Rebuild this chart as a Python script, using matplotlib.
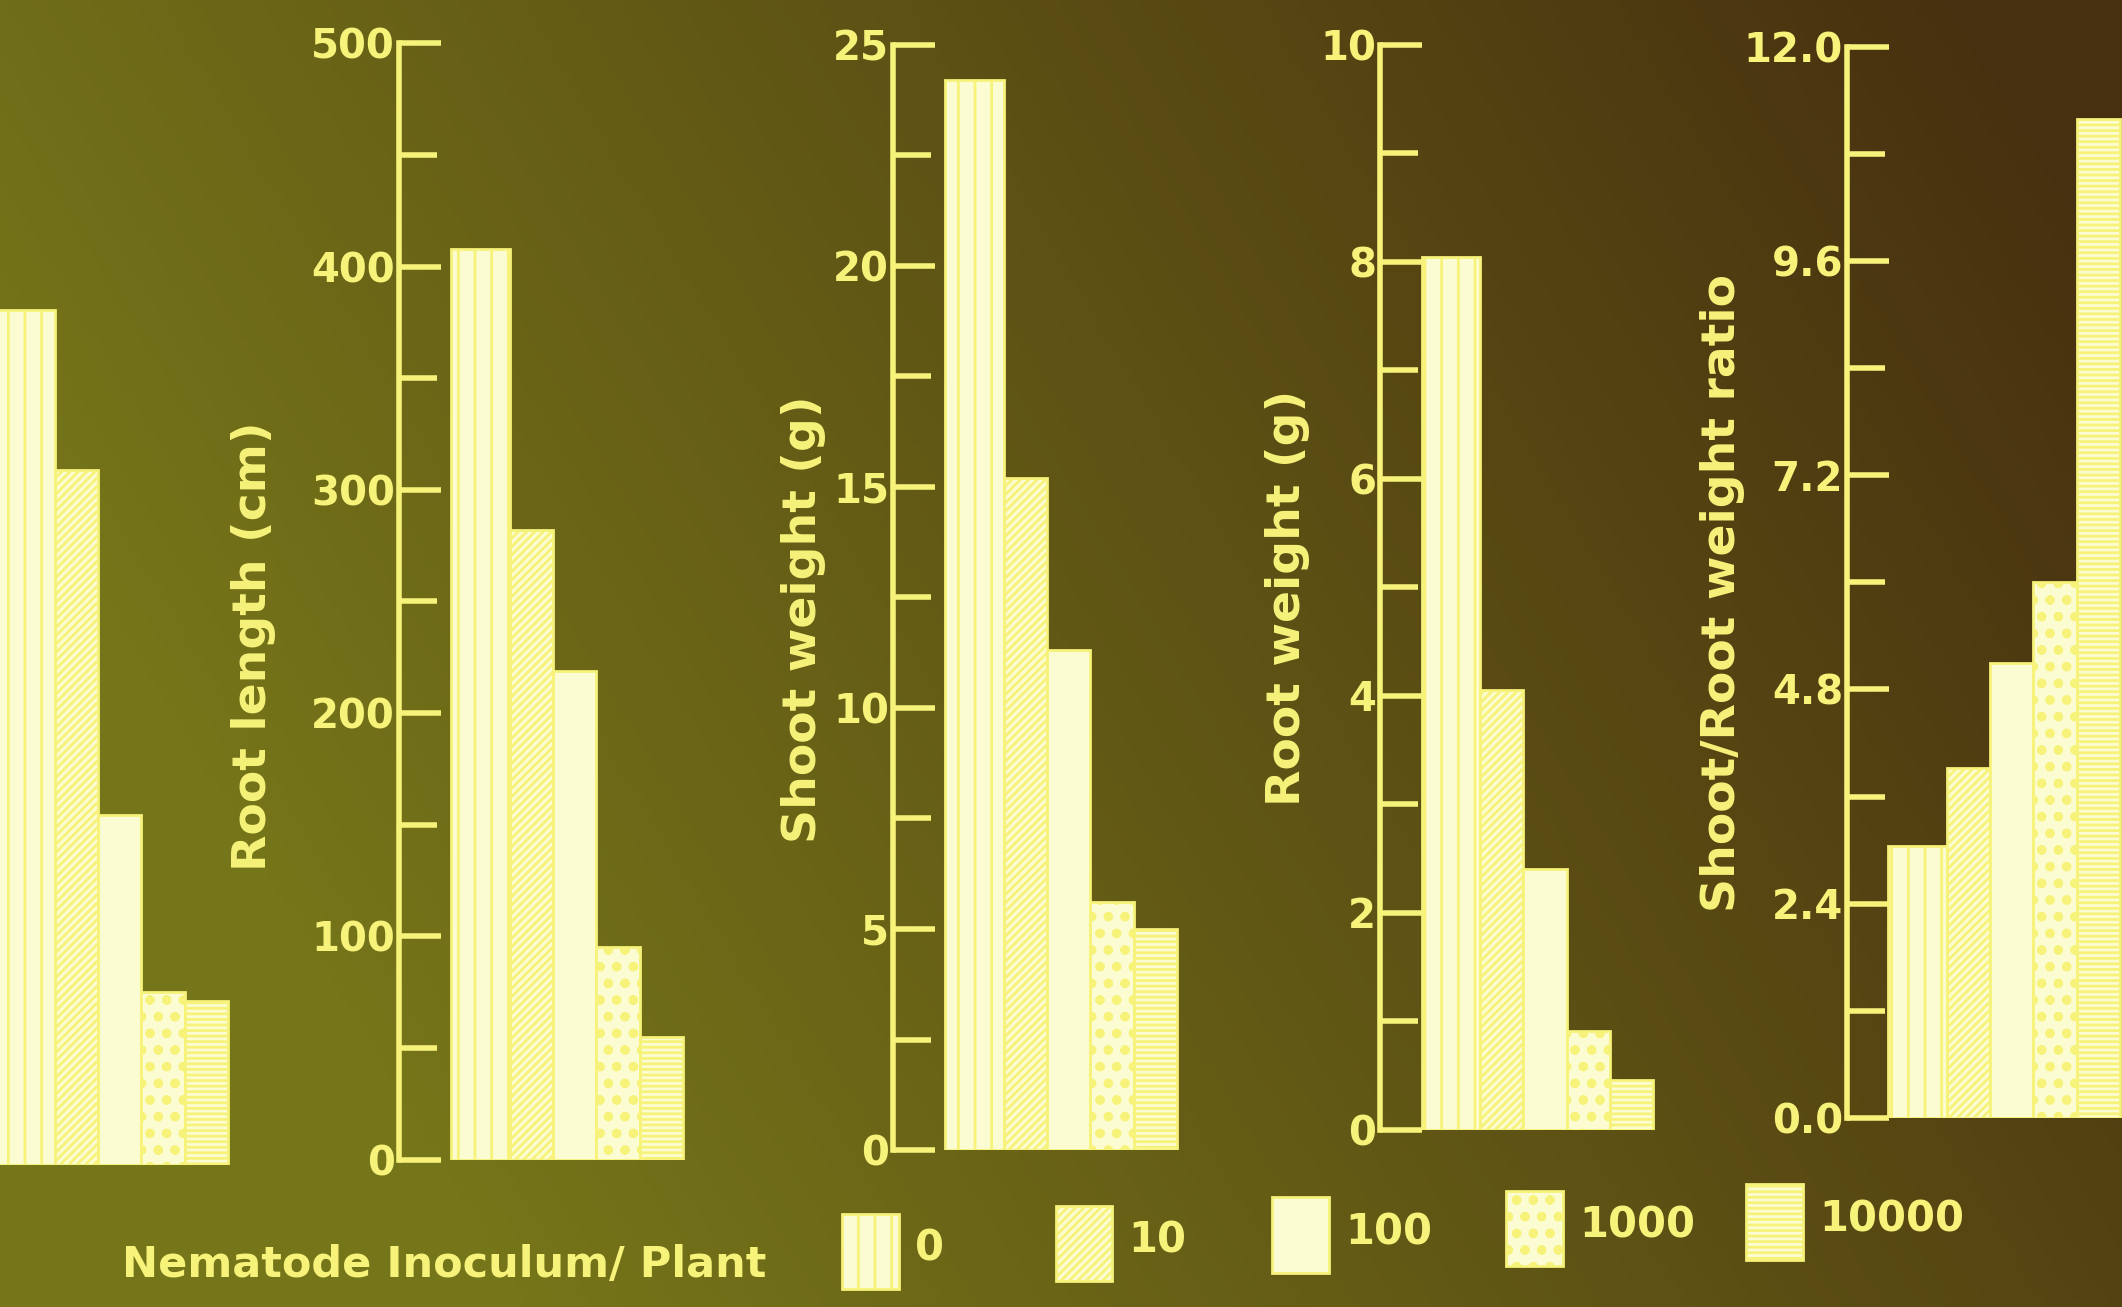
import numpy as np
import matplotlib
matplotlib.use('Agg')
import matplotlib.pyplot as plt
from matplotlib.patches import Rectangle
from matplotlib.ticker import MultipleLocator

# dados
inoculo = ['0', '10', '100', '1000', '10000']
primeiro_grupo = [381, 310, 156, 77, 73]      # grupo cortado a esquerda
comprimento_raiz = [408, 282, 219, 95, 55]     # Root length (cm)
peso_parte_aerea = [24.2, 15.2, 11.3, 5.6, 5.0]  # Shoot weight (g)
peso_raiz = [8.04, 4.05, 2.4, 0.91, 0.46]      # Root weight (g)
razao = [3.05, 3.92, 5.1, 6.0, 11.2]           # Shoot/Root weight ratio

amarelo = '#f6f27a'
barra = '#fcfcd2'
hachuras = ['|', '////', '', 'o.', '---']
larguras = [1.35, 1, 1, 1, 1]

plt.rcParams['font.family'] = ['DejaVu Sans']
plt.rcParams['font.weight'] = 'bold'
plt.rcParams['hatch.color'] = '#dcd84a'
plt.rcParams['hatch.linewidth'] = 2.0

fig = plt.figure(figsize=(21.22, 13.07), dpi=100)

# fundo tipo foto de slide
bg = fig.add_axes([0, 0, 1, 1])
xx, yy = np.meshgrid(np.linspace(0, 1, 300), np.linspace(0, 1, 200))
verde = np.array([0.46, 0.46, 0.10])
marrom = np.array([0.28, 0.19, 0.06])
t = np.clip(xx * 0.95 - yy * 0.35 + 0.12, 0, 1)[..., None]
img = verde * (1 - t) + marrom * t
bg.imshow(img, aspect='auto', extent=[0, 1, 0, 1], origin='upper')
bg.axis('off')

W, H = 1568, 966
LARGURA_AX = 260


def painel(spine_x, topo, base, valores, ymax, major, minor, gap, rotulo=None,
           lab_x=-0.3, lab_y=0.47, fmt=None, rotulos_ticks=True):
    ax = fig.add_axes([spine_x / W, 1 - base / H, LARGURA_AX / W, (base - topo) / H])
    ax.patch.set_alpha(0)
    unidade = 32
    pos = []
    x = gap
    for w in larguras:
        pos.append(x)
        x += w
    barras = ax.bar(pos, valores, width=larguras, align='edge', color=barra,
                    edgecolor=amarelo, linewidth=2)
    for b, h in zip(barras, hachuras):
        b.set_hatch(h)
    ax.set_xlim(0, LARGURA_AX / unidade)
    ax.set_ylim(0, ymax)
    for s in ['top', 'right', 'bottom']:
        ax.spines[s].set_visible(False)
    ax.spines['left'].set_color(amarelo)
    ax.spines['left'].set_linewidth(4)
    ax.set_xticks([])
    ax.yaxis.set_major_locator(MultipleLocator(major))
    ax.yaxis.set_minor_locator(MultipleLocator(minor))
    ax.tick_params(axis='y', which='major', direction='in', length=30, width=4,
                   color=amarelo, labelcolor=amarelo, labelsize=29, pad=3,
                   labelleft=rotulos_ticks)
    ax.tick_params(axis='y', which='minor', direction='in', length=27, width=4,
                   color=amarelo)
    if fmt:
        ax.yaxis.set_major_formatter(fmt)
    if rotulo:
        ax.set_ylabel(rotulo, color=amarelo, fontsize=34, fontweight='bold')
        ax.yaxis.set_label_coords(lab_x, lab_y)
    return ax


painel(-70, 32, 861, primeiro_grupo, 500, 100, 50, 2.1, rotulos_ticks=False)
painel(295, 32, 857, comprimento_raiz, 500, 100, 50, 1.2, 'Root length (cm)', -0.35, 0.46)
painel(660, 33, 850, peso_parte_aerea, 25, 5, 2.5, 1.2, 'Shoot weight (g)', -0.19, 0.48)
painel(1020, 33, 835, peso_raiz, 10, 2, 1, 0.95, 'Root weight (g)', -0.20, 0.49)
painel(1365, 35, 826, razao, 12, 2.4, 1.2, 0.95, 'Shoot/Root weight ratio', -0.29, 0.49,
       fmt='{x:.1f}')

# legenda (foto levemente inclinada)
fig.text(90 / W, 1 - 935 / H, 'Nematode Inoculum/ Plant', color=amarelo,
         fontsize=31, fontweight='bold', va='center', ha='left')
leg_x = [622, 780, 940, 1113, 1290]
leg_y = [925, 919, 913, 908, 903]
for xi, yi, h, rot in zip(leg_x, leg_y, hachuras, inoculo):
    fig.add_artist(Rectangle((xi / W, 1 - (yi + 28) / H), 42 / W, 56 / H,
                             transform=fig.transFigure, facecolor=barra,
                             edgecolor=amarelo, hatch=h, linewidth=2))
    fig.text((xi + 54) / W, 1 - (yi - 2) / H, rot, color=amarelo, fontsize=30,
             fontweight='bold', va='center', ha='left')

fig.savefig('out.png', dpi=100)
